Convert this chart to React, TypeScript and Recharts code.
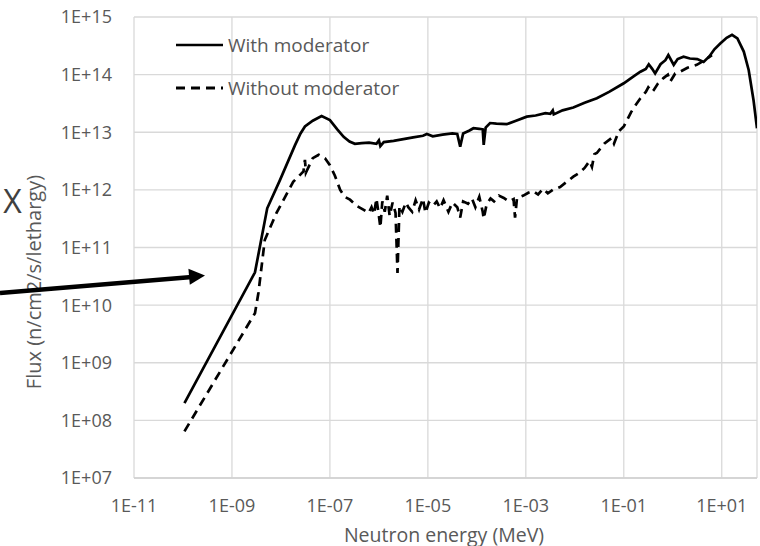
import React from "react";
import { LineChart, Line, XAxis, YAxis, CartesianGrid } from "recharts";

// values are log10 exponents
const energyWithExp = [
	-9.97, -8.53, -8.28, -8.02, -7.71, -7.6, -7.51, -7.35, -7.17, -7.0, -6.85, -6.72, -6.6,
	-6.49, -6.35, -6.2, -6.05, -6.0, -5.97, -5.9, -5.7, -5.5, -5.3, -5.1, -5.02, -4.9, -4.7,
	-4.5, -4.4, -4.34, -4.28, -4.15, -4.07, -3.95, -3.88, -3.86, -3.82, -3.73, -3.6, -3.39,
	-3.2, -2.98, -2.8, -2.6, -2.5, -2.45, -2.43, -2.25, -2.03, -1.8, -1.55, -1.3, -1.0, -0.8,
	-0.66, -0.55, -0.49, -0.42, -0.36, -0.25, -0.15, -0.09, 0.02, 0.1, 0.22, 0.35, 0.5, 0.63,
	0.75, 0.85, 0.97, 1.1, 1.21, 1.32, 1.45, 1.55, 1.65, 1.72,
];
const fluxWithExp = [
	8.3, 10.57, 11.68, 12.17, 12.78, 12.98, 13.1, 13.2, 13.28, 13.21, 13.05, 12.92, 12.84,
	12.8, 12.81, 12.82, 12.8, 12.86, 12.76, 12.83, 12.85, 12.88, 12.91, 12.94, 12.97, 12.93,
	12.96, 12.98, 12.97, 12.75, 12.98, 13.03, 13.07, 13.06, 13.05, 12.78, 13.08, 13.16, 13.15,
	13.14, 13.2, 13.27, 13.29, 13.33, 13.32, 13.38, 13.31, 13.38, 13.43, 13.51, 13.59, 13.7,
	13.85, 13.97, 14.05, 14.1, 14.18, 14.1, 14.02, 14.18, 14.25, 14.34, 14.17, 14.27, 14.31,
	14.28, 14.27, 14.22, 14.32, 14.44, 14.54, 14.64, 14.69, 14.63, 14.4, 14.08, 13.55, 13.07,
];

const energyWithoutExp = [
	-9.97, -8.53, -8.46, -8.33, -8.09, -7.75, -7.54, -7.51, -7.49, -7.35, -7.23, -7.1, -7.0,
	-6.9, -6.79, -6.7, -6.59, -6.45, -6.3, -6.21, -6.15, -6.1, -6.05, -6.0, -5.97, -5.93,
	-5.88, -5.83, -5.78, -5.72, -5.66, -5.62, -5.58, -5.52, -5.45, -5.4, -5.32, -5.25, -5.18,
	-5.1, -5.05, -4.98, -4.9, -4.82, -4.75, -4.68, -4.58, -4.5, -4.4, -4.34, -4.28, -4.18,
	-4.1, -4.03, -3.95, -3.88, -3.86, -3.8, -3.72, -3.65, -3.55, -3.45, -3.35, -3.25, -3.22,
	-3.18, -3.05, -2.95, -2.85, -2.75, -2.65, -2.55, -2.45, -2.3, -2.15, -2.03, -1.9, -1.8,
	-1.7, -1.65, -1.6, -1.55, -1.4, -1.25, -1.2, -1.1, -1.0, -0.85, -0.75, -0.66, -0.55, -0.5,
	-0.42, -0.39, -0.3, -0.19, -0.1, -0.05, 0.05, 0.15, 0.3, 0.49, 0.65, 0.8,
];
const fluxWithoutExp = [
	7.81, 9.86, 10.21, 11.13, 11.6, 12.14, 12.32, 12.52, 12.3, 12.55, 12.61, 12.55, 12.43,
	12.25, 12.0, 11.88, 11.83, 11.72, 11.65, 11.6, 11.7, 11.58, 11.85, 11.55, 11.35, 11.8,
	11.62, 11.9, 11.55, 11.78, 11.6, 10.56, 11.72, 11.62, 11.78, 11.7, 11.62, 11.82, 11.66,
	11.85, 11.6, 11.78, 11.72, 11.8, 11.68, 11.82, 11.62, 11.78, 11.7, 11.52, 11.8, 11.76,
	11.85, 11.7, 11.88, 11.62, 11.5, 11.75, 11.85, 11.8, 11.9, 11.86, 11.8, 11.84, 11.52,
	11.86, 11.9, 11.95, 11.98, 11.92, 12.02, 11.94, 12.0, 12.05, 12.15, 12.23, 12.3, 12.38,
	12.5, 12.4, 12.62, 12.64, 12.8, 12.9, 12.8, 13.02, 13.1, 13.35, 13.48, 13.59, 13.7, 13.78,
	13.7, 13.73, 13.85, 13.94, 14.0, 13.88, 14.02, 14.05, 14.12, 14.17, 14.25, 14.34,
];

const xTicks = [-11, -9, -7, -5, -3, -1, 1];
const yTicks = [7, 8, 9, 10, 11, 12, 13, 14, 15];

const seriesNames = ["With moderator", "Without moderator"];

const withData = energyWithExp.map((e, i) => ({ e, f: fluxWithExp[i] }));
const withoutData = energyWithoutExp.map((e, i) => ({ e, f: fluxWithoutExp[i] }));

const textColor = "#595959";
const font = "'Open Sans', sans-serif";

const expLabel = (v: number) => {
	const n = Math.round(v);
	return `1E${n < 0 ? "-" : "+"}${String(Math.abs(n)).padStart(2, "0")}`;
};

export default function App() {
	return (
		<div style={{ position: "absolute", left: 0, top: 0, width: 760, height: 546, background: "#fff" }}>
			<LineChart width={760} height={546} margin={{ top: 17, right: 3, bottom: 0, left: 0 }}>
				<CartesianGrid stroke="#d9d9d9" strokeWidth={1.3} />
				<XAxis
					type="number"
					dataKey="e"
					domain={[-11, 1.72]}
					ticks={xTicks}
					allowDataOverflow
					tickFormatter={expLabel}
					height={68}
					tickLine={false}
					tickSize={0}
					tickMargin={21}
					axisLine={{ stroke: "#d0d0d0", strokeWidth: 1.3 }}
					tick={{ fill: textColor, fontSize: 18, fontFamily: font }}
					label={{
						value: "Neutron energy (MeV)",
						content: () => (
							<text x={444} y={534} textAnchor="middle" dominantBaseline="central" fontSize={19.5} fontFamily={font} fill={textColor}>
								Neutron energy (MeV)
							</text>
						),
					}}
				/>
				<YAxis
					type="number"
					domain={[7, 15]}
					ticks={yTicks}
					allowDataOverflow
					tickFormatter={expLabel}
					width={134}
					tickLine={false}
					tickSize={0}
					tickMargin={22}
					axisLine={false}
					tick={{ fill: textColor, fontSize: 18, fontFamily: font }}
					label={{
						value: "Flux (n/cm2/s/lethargy)",
						content: () => (
							<text
								x={33}
								y={282}
								transform="rotate(-90 33 282)"
								textAnchor="middle"
								dominantBaseline="central"
								fontSize={20}
								fontFamily={font}
								fill={textColor}>
								Flux (n/cm2/s/lethargy)
							</text>
						),
					}}
				/>
				<Line
					data={withData}
					dataKey="f"
					name={seriesNames[0]}
					type="linear"
					stroke="#000"
					strokeWidth={2.7}
					dot={false}
					isAnimationActive={false}
				/>
				<Line
					data={withoutData}
					dataKey="f"
					name={seriesNames[1]}
					type="linear"
					stroke="#000"
					strokeWidth={2.7}
					strokeDasharray="9 6"
					dot={false}
					isAnimationActive={false}
				/>
			</LineChart>
			<svg width={760} height={546} style={{ position: "absolute", left: 0, top: 0, pointerEvents: "none", fontFamily: font }}>
				{/* legend */}
				<line x1={176} y1={45} x2={223} y2={45} stroke="#000" strokeWidth={2.7} />
				<text x={228} y={45} dominantBaseline="central" fontSize={19} fill={textColor}>
					{seriesNames[0]}
				</text>
				<line x1={176} y1={88} x2={223} y2={88} stroke="#000" strokeWidth={3} strokeDasharray="9 6" />
				<text x={228} y={88} dominantBaseline="central" fontSize={19} fill={textColor}>
					{seriesNames[1]}
				</text>
				{/* annotation */}
				<text x={12.5} y={213} textAnchor="middle" fontSize={32} fill="#404040">
					X
				</text>
				<line x1={0} y1={293} x2={192} y2={277} stroke="#000" strokeWidth={4.5} />
				<polygon points="205,275.5 188.4,268.8 189.8,284.8" fill="#000" />
			</svg>
		</div>
	);
}
